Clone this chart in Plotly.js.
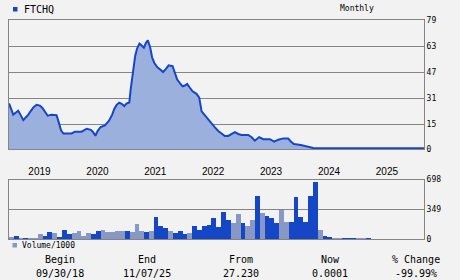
<!DOCTYPE html>
<html>
<head>
<meta charset="utf-8">
<script src="https://cdn.plot.ly/plotly-3.0.1.min.js"></script>
<style>
  html, body { margin: 0; padding: 0; background: #f2f2f2; }
  #chart { width: 460px; height: 280px; }
</style>
</head>
<body>
<div id="chart"></div>
<script>
// ---- data ----
const symbol = 'FTCHQ';
const period = 'Monthly';
const volumeLabel = 'Volume/1000';

const priceDates = [
  '2018-09-01','2018-09-14','2018-09-28','2018-10-13','2018-10-29','2018-11-13','2018-11-30','2018-12-15','2018-12-31',
  '2019-01-17','2019-02-03','2019-02-22','2019-03-15','2019-04-01','2019-04-16','2019-05-03','2019-05-28','2019-06-28',
  '2019-07-13','2019-07-26','2019-08-10','2019-10-01','2019-10-22','2019-12-03',
  '2020-01-04','2020-01-31','2020-02-14','2020-02-28','2020-03-13','2020-04-01','2020-04-28','2020-05-23','2020-06-13',
  '2020-06-26','2020-07-11','2020-07-27','2020-08-12','2020-08-28','2020-09-11','2020-09-29','2020-10-07','2020-10-15',
  '2020-10-23','2020-11-05','2020-11-17','2020-12-02','2020-12-16','2020-12-30',
  '2021-01-12','2021-01-24','2021-02-08','2021-02-20','2021-03-06','2021-03-25','2021-04-14','2021-04-30','2021-05-18',
  '2021-06-04','2021-06-29','2021-07-14','2021-07-28','2021-08-14','2021-08-31','2021-09-15','2021-09-29','2021-10-16',
  '2021-11-02','2021-11-27','2021-12-14','2021-12-29',
  '2022-01-19','2022-02-09','2022-03-02','2022-03-23','2022-04-13','2022-05-04','2022-05-25','2022-06-15','2022-07-06',
  '2022-07-27','2022-08-17','2022-09-07','2022-10-19','2022-11-10','2022-11-30','2022-12-27',
  '2023-01-22','2023-03-05','2023-04-01','2023-04-27','2023-05-28','2023-06-28','2023-07-15','2023-08-03','2023-09-16',
  '2023-10-12','2023-11-12','2023-12-03',
  '2024-03-01','2024-07-01','2024-11-01','2025-03-01','2025-07-01','2025-11-01'
];
const priceValues = [
  27.9, 24.8, 21.1, 22.2, 23.4, 20.9, 17.7, 19.3, 20.9,
  23.4, 25.6, 27.1, 26.6, 25.0, 23.0, 20.4, 20.9, 20.7,
  16.0, 11.5, 9.5, 9.5, 10.6, 10.6,
  12.4, 11.7, 10.3, 8.1, 11.0, 13.5, 14.5, 17.2, 21.0,
  24.5, 27.0, 28.4, 27.7, 26.3, 27.8, 28.5, 36.0, 42.5,
  50.0, 57.0, 61.5, 64.5, 63.4, 62.0,
  65.0, 66.6, 62.0, 56.0, 52.7, 50.0, 48.5, 47.1, 49.1,
  51.2, 50.7, 47.0, 42.5, 40.4, 38.4, 38.9, 39.9, 37.5,
  35.3, 33.8, 31.5, 23.0,
  20.4, 18.4, 15.6, 13.2, 11.0, 9.4, 8.0, 8.0, 9.2,
  10.3, 9.2, 8.6, 8.6, 7.2, 5.1, 7.3,
  6.0, 6.0, 4.5, 5.7, 6.5, 6.5, 4.6, 3.0, 2.5,
  1.8, 1.0, 0.6,
  0.5, 0.5, 0.5, 0.5, 0.5, 0.5
];

const volMonths = [
  '2018-09','2018-10','2018-11','2018-12',
  '2019-01','2019-02','2019-03','2019-04','2019-05','2019-06','2019-07','2019-08','2019-09','2019-10','2019-11','2019-12',
  '2020-01','2020-02','2020-03','2020-04','2020-05','2020-06','2020-07','2020-08','2020-09','2020-10','2020-11','2020-12',
  '2021-01','2021-02','2021-03','2021-04','2021-05','2021-06','2021-07','2021-08','2021-09','2021-10','2021-11','2021-12',
  '2022-01','2022-02','2022-03','2022-04','2022-05','2022-06','2022-07','2022-08','2022-09','2022-10','2022-11','2022-12',
  '2023-01','2023-02','2023-03','2023-04','2023-05','2023-06','2023-07','2023-08','2023-09','2023-10','2023-11','2023-12',
  '2024-01','2024-02','2024-03','2024-04','2024-05','2024-06','2024-07','2024-08','2024-09','2024-10','2024-11','2024-12',
  '2025-01','2025-02','2025-03','2025-04','2025-05','2025-06','2025-07','2025-08','2025-09','2025-10'
];
const volValues = [
  20, 32, 8, 15,
  10, 10, 55, 32, 79, 67, 20, 102, 55, 67, 90, 32,
  67, 55, 90, 102, 79, 79, 90, 90, 90, 79, 172, 90,
  79, 90, 255, 149, 126, 90, 67, 90, 55, 67, 149, 102,
  149, 161, 243, 137, 314, 220, 184, 290, 184, 149, 220, 502,
  306, 267, 243, 184, 337, 196, 196, 490, 255, 196, 502, 672,
  102, 32, 20, 15, 10, 8, 8, 8, 8, 8, 8, 5,
  5, 5, 5, 5, 5, 5, 5, 5, 5, 5
];
// 1 = up month (dark bar), 0 = down month (light bar)
const volUp = [
  0, 1, 0, 1,
  0, 0, 0, 1, 1, 0, 1, 1, 1, 0, 0, 0,
  0, 1, 1, 0, 0, 0, 0, 0, 1, 0, 0, 0,
  1, 0, 1, 1, 1, 0, 1, 1, 1, 0, 1, 1,
  1, 1, 1, 1, 1, 1, 0, 0, 1, 0, 0, 1,
  0, 1, 1, 1, 0, 0, 1, 1, 1, 1, 1, 1,
  0, 1, 1, 0, 0, 1, 1, 1, 0, 0, 1, 0,
  0, 0, 0, 0, 0, 0, 1, 0, 0, 1
];

const yearLabels = ['2019','2020','2021','2022','2023','2024','2025'];
const priceTicks = [0, 15, 31, 47, 63, 79];
const volTicks = [0, 349, 698];

const footHeads = ['Begin', 'End', 'From', 'Now', '% Change'];
const footVals = ['09/30/18', '11/07/25', '27.230', '0.0001', '-99.99%'];

// ---- styling / layout ----
const W = 460, H = 280;
const M = { l: 9, r: 36, t: 20, b: 41 };
const PW = W - M.l - M.r, PH = H - M.t - M.b;
const px = x => (x - M.l) / PW;
const py = y => (H - M.b - y) / PH;

const BLUE = '#1446c6';
const GRAY = '#8898c4';
const FILL = '#9cb0dd';
const GRID = '#858585';
const BG = '#f2f2f2';
const MONO = 'DejaVu Sans Mono, monospace';

const barX = [], barW = [];
volMonths.forEach(m => {
  const [y, mo] = m.split('-').map(Number);
  const s = Date.UTC(y, mo - 1, 1), e = Date.UTC(y, mo, 1);
  barX.push((s + e) / 2);
  barW.push(e - s);
});

const traces = [
  {
    type: 'scatter', mode: 'lines', x: priceDates, y: priceValues,
    fill: 'tozeroy', fillcolor: FILL,
    line: { color: BLUE, width: 2 },
    xaxis: 'x', yaxis: 'y', hoverinfo: 'skip'
  },
  {
    type: 'bar', x: barX, y: volValues, width: barW,
    marker: { color: volUp.map(u => u ? BLUE : GRAY), line: { width: 0 } },
    xaxis: 'x2', yaxis: 'y2', hoverinfo: 'skip'
  }
];

const xRange = ['2018-09-01', '2025-11-01'];
const axisCommon = {
  showline: true, mirror: true, linecolor: GRID, linewidth: 1,
  zeroline: false, ticks: '', fixedrange: true
};

const annotations = [
  { text: symbol, x: px(22), y: py(9.5), xref: 'paper', yref: 'paper', xanchor: 'left', yanchor: 'middle',
    showarrow: false, font: { family: MONO, size: 10, color: '#000' } },
  { text: period, x: px(357), y: py(9), xref: 'paper', yref: 'paper', xanchor: 'center', yanchor: 'middle',
    showarrow: false, font: { family: MONO, size: 8, color: '#000' } },
  { text: volumeLabel, x: px(20), y: py(245.5), xref: 'paper', yref: 'paper', xanchor: 'left', yanchor: 'middle',
    showarrow: false, font: { family: MONO, size: 8, color: '#000' } }
];
const footX = [60, 147, 241, 330, 416];
footHeads.forEach((t, i) => {
  annotations.push({ text: t, x: px(footX[i]), y: py(259), xref: 'paper', yref: 'paper',
    xanchor: 'center', yanchor: 'middle', showarrow: false,
    font: { family: MONO, size: 10, color: '#000' } });
  annotations.push({ text: footVals[i], x: px(footX[i]), y: py(273), xref: 'paper', yref: 'paper',
    xanchor: 'center', yanchor: 'middle', showarrow: false,
    font: { family: MONO, size: 10, color: '#000' } });
});

const shapes = [
  { type: 'rect', xref: 'paper', yref: 'paper', x0: px(13), x1: px(17.5), y0: py(11.5), y1: py(7),
    fillcolor: BLUE, line: { width: 0 } },
  { type: 'rect', xref: 'paper', yref: 'paper', x0: px(12.5), x1: px(17), y0: py(247.5), y1: py(243),
    fillcolor: GRAY, line: { width: 0 } }
];

const layout = {
  width: W, height: H,
  margin: M,
  paper_bgcolor: BG, plot_bgcolor: BG,
  showlegend: false,
  bargap: 0,
  xaxis: Object.assign({}, axisCommon, {
    type: 'date', range: xRange, anchor: 'y', showgrid: false, showticklabels: false
  }),
  yaxis: Object.assign({}, axisCommon, {
    domain: [py(149), 1], range: [0, 79], side: 'right', anchor: 'x',
    tickvals: priceTicks, ticktext: priceTicks.map(String),
    showgrid: true, gridcolor: GRID, gridwidth: 1,
    tickfont: { family: MONO, size: 8, color: '#000' }
  }),
  xaxis2: Object.assign({}, axisCommon, {
    type: 'date', range: xRange, anchor: 'y2', side: 'top', showgrid: false,
    tickvals: yearLabels.map(y => y + '-03-12'), ticktext: yearLabels,
    tickfont: { family: 'Liberation Sans, Arial, sans-serif', size: 10, color: '#000' }
  }),
  yaxis2: Object.assign({}, axisCommon, {
    domain: [0, py(179.5)], range: [0, 698], side: 'right', anchor: 'x2',
    tickvals: volTicks, ticktext: volTicks.map(String),
    showgrid: true, gridcolor: GRID, gridwidth: 1,
    tickfont: { family: MONO, size: 8, color: '#000' }
  }),
  annotations: annotations,
  shapes: shapes
};

Plotly.newPlot('chart', traces, layout, { displayModeBar: false, staticPlot: true });
</script>
</body>
</html>
